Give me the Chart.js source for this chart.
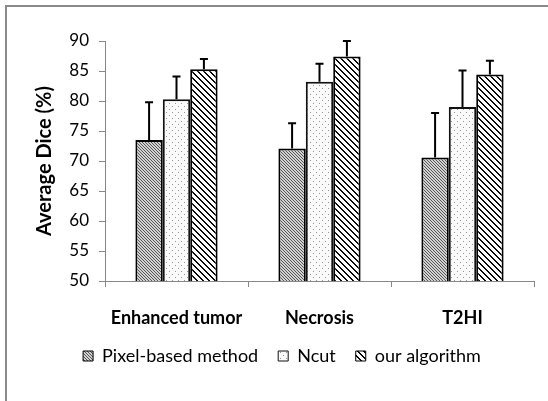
<!DOCTYPE html>
<html>
<head>
<meta charset="utf-8">
<script src="https://cdn.jsdelivr.net/npm/chart.js@4/dist/chart.umd.min.js"></script>
<style>
html,body{margin:0;padding:0;background:#fff;}
#wrap{width:548px;height:401px;position:relative;}
</style>
</head>
<body>
<div id="wrap"><canvas id="c" width="548" height="401"></canvas></div>
<script>
const categories = ["Enhanced tumor", "Necrosis", "T2HI"];
const seriesNames = ["Pixel-based method", "Ncut", "our algorithm"];
const pixelValues = [73.5, 72.1, 70.6];
const pixelErrors = [6.3, 4.2, 7.4];
const ncutValues = [80.3, 83.2, 79.0];
const ncutErrors = [3.8, 3.0, 6.1];
const oursValues = [85.3, 87.4, 84.4];
const oursErrors = [1.7, 2.6, 2.3];
const yTicks = [50, 55, 60, 65, 70, 75, 80, 85, 90];

function makePattern(size, fn) {
  const cv = document.createElement('canvas');
  cv.width = size; cv.height = size;
  const cx = cv.getContext('2d');
  const img = cx.createImageData(size, size);
  for (let y = 0; y < size; y++) {
    for (let x = 0; x < size; x++) {
      const c = fn(x, y);
      const i = (y * size + x) * 4;
      img.data[i] = c[0]; img.data[i+1] = c[1]; img.data[i+2] = c[2]; img.data[i+3] = 255;
    }
  }
  cx.putImageData(img, 0, 0);
  return document.getElementById('c').getContext('2d').createPattern(cv, 'repeat');
}
const pixelPattern = makePattern(3, (x, y) => (((x - y) % 3 + 3) % 3 === 0) ? [85,85,85] : [210,210,210]);
const ncutPattern = makePattern(6, (x, y) => ((x === 1 && y === 1) || (x === 4 && y === 4)) ? [150,150,150] : [250,250,250]);
const oursPattern = makePattern(6, (x, y) => (((x - y) % 6 + 6) % 6 < 2) ? [10,10,10] : [255,255,255]);

const errorBars = {
  id: 'errorBars',
  afterDatasetsDraw(chart) {
    const ctx = chart.ctx;
    const ys = chart.scales.y;
    const errs = [pixelErrors, ncutErrors, oursErrors];
    chart.data.datasets.forEach((ds, di) => {
      const meta = chart.getDatasetMeta(di);
      meta.data.forEach((bar, i) => {
        const v = ds.data[i];
        const yTop = ys.getPixelForValue(v + errs[di][i]);
        ctx.save();
        ctx.strokeStyle = '#000';
        ctx.lineWidth = 2;
        ctx.beginPath();
        ctx.moveTo(bar.x, bar.y);
        ctx.lineTo(bar.x, yTop);
        ctx.moveTo(bar.x - 4, yTop);
        ctx.lineTo(bar.x + 4, yTop);
        ctx.stroke();
        ctx.restore();
      });
    });
  }
};
const frame = {
  id: 'frame',
  beforeDraw(chart) {
    const ctx = chart.ctx;
    ctx.save();
    ctx.fillStyle = '#fff';
    ctx.fillRect(0, 0, chart.width, chart.height);
    ctx.strokeStyle = '#8a8a8a';
    ctx.lineWidth = 2;
    ctx.beginPath();
    ctx.moveTo(6, chart.height);
    ctx.lineTo(6, 6);
    ctx.lineTo(chart.width, 6);
    ctx.stroke();
    ctx.restore();
  }
};

new Chart(document.getElementById('c'), {
  type: 'bar',
  data: {
    labels: categories,
    datasets: [
      { label: seriesNames[0], data: pixelValues, backgroundColor: pixelPattern, borderColor: '#000', borderWidth: 2 },
      { label: seriesNames[1], data: ncutValues, backgroundColor: ncutPattern, borderColor: '#111', borderWidth: 2 },
      { label: seriesNames[2], data: oursValues, backgroundColor: oursPattern, borderColor: '#000', borderWidth: 2 }
    ]
  },
  options: {
    responsive: false,
    animation: false,
    devicePixelRatio: 1,
    layout: { padding: { left: 30, top: 41, right: 14, bottom: 26 } },
    datasets: { bar: { categoryPercentage: 0.575, barPercentage: 1.0, borderSkipped: 'bottom' } },
    plugins: {
      tooltip: { enabled: false },
      legend: {
        position: 'bottom',
        labels: {
          font: { family: 'Lato', size: 18 },
          color: '#000',
          boxWidth: 10,
          boxHeight: 10,
          padding: 20,
          generateLabels(chart) {
            const items = Chart.defaults.plugins.legend.labels.generateLabels(chart);
            items.forEach(it => { it.lineWidth = 1; });
            return items;
          }
        }
      }
    },
    scales: {
      x: {
        afterFit(scale) { scale.height = 46; },
        grid: { offset: true, drawOnChartArea: false, drawTicks: true, tickLength: 6, color: '#888', lineWidth: 1 },
        border: { color: '#888', width: 1 },
        ticks: { color: '#000', font: { family: 'Lato', size: 18, weight: 'bold' }, padding: 20 }
      },
      y: {
        min: 50, max: 90,
        afterFit(scale) { scale.width = 75; },
        afterBuildTicks(scale) { scale.ticks = yTicks.map(v => ({ value: v })); },
        grid: { drawOnChartArea: false, drawTicks: true, tickLength: 6, color: '#888', lineWidth: 1 },
        border: { color: '#888', width: 1 },
        ticks: { color: '#000', font: { family: 'Lato', size: 17 }, padding: 10 },
        title: { display: true, text: 'Average Dice (%)', color: '#000', font: { family: 'Lato', size: 20, weight: 'bold' }, padding: { top: 3, bottom: 0 } }
      }
    }
  },
  plugins: [frame, errorBars]
});
</script>
</body>
</html>
